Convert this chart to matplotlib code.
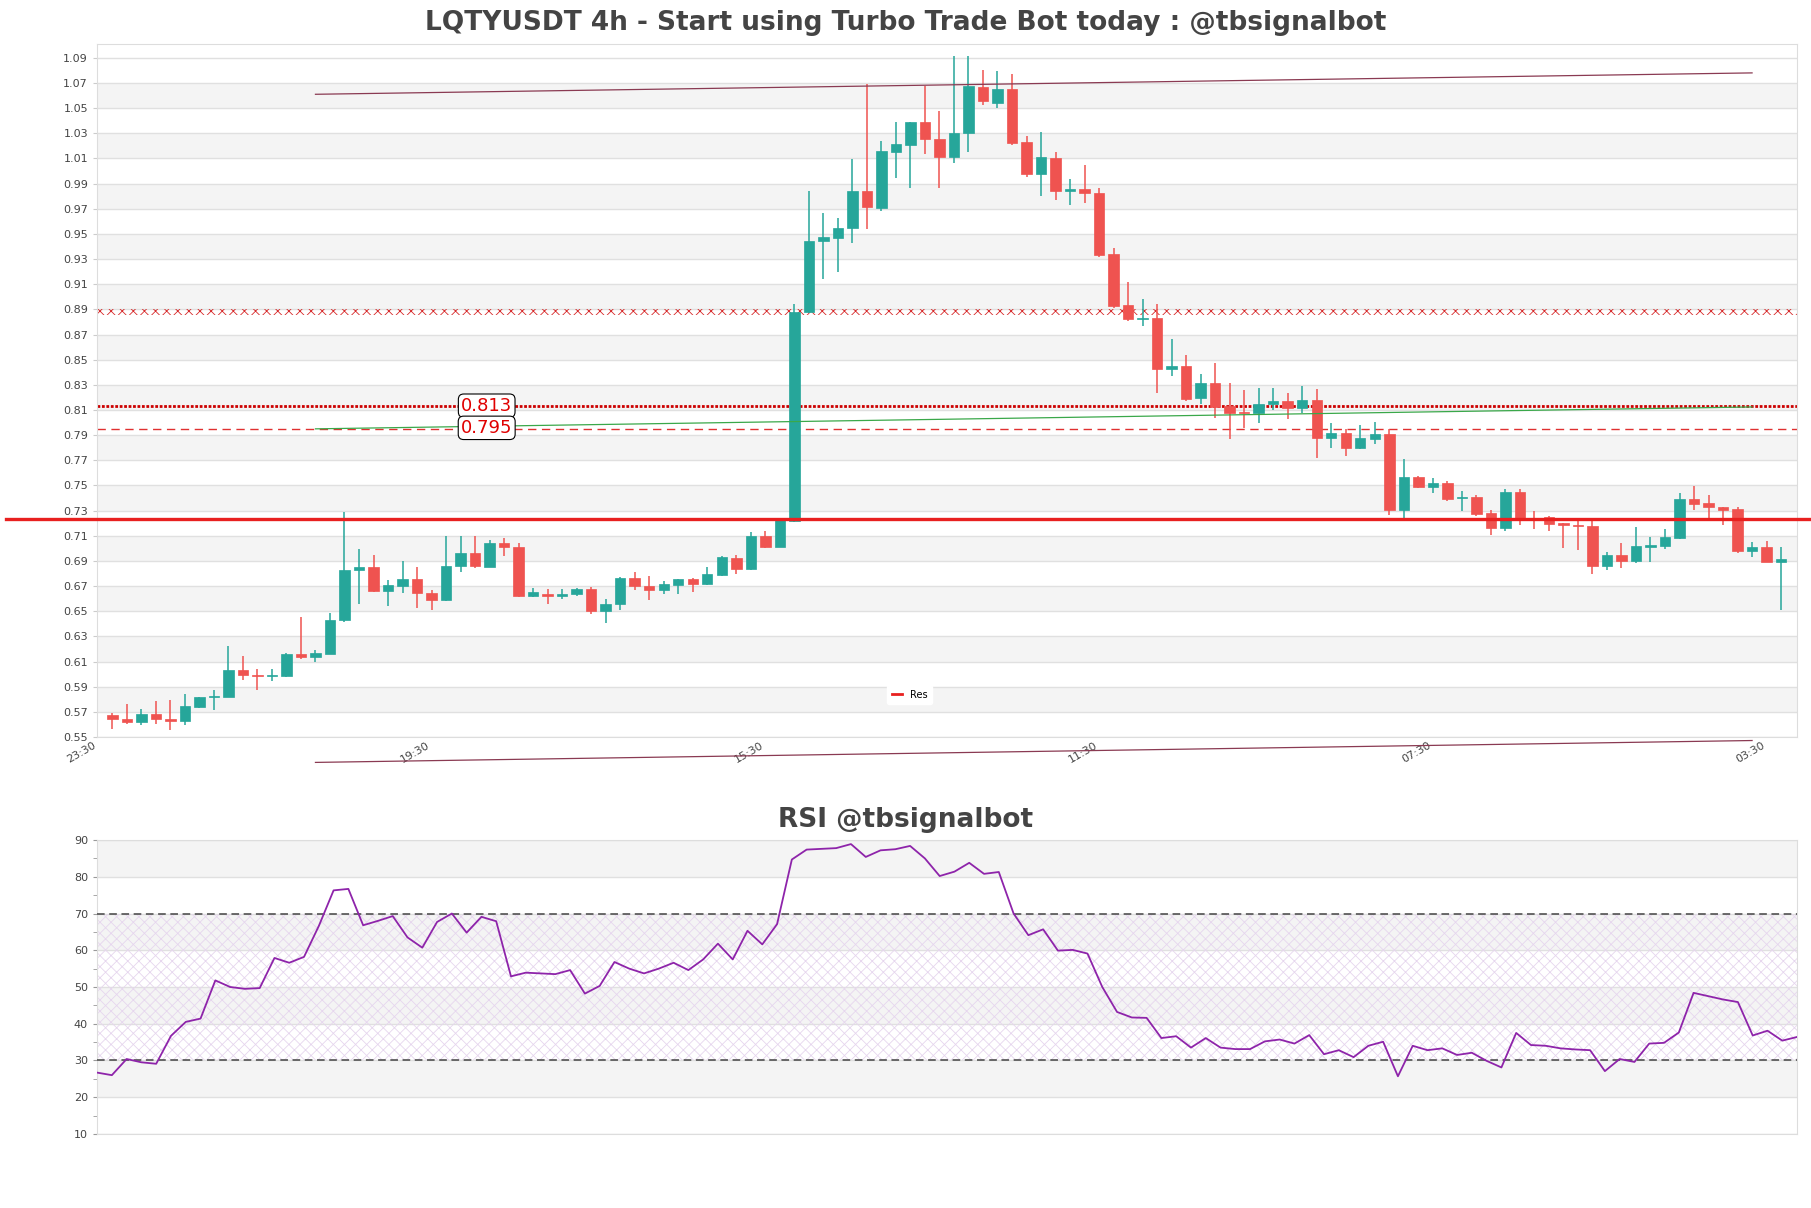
import numpy as np
import matplotlib
matplotlib.use("Agg")
import matplotlib.pyplot as plt
from matplotlib.lines import Line2D

# 4h candles
opens = [
    0.5675, 0.5643, 0.5617, 0.5686, 0.5646, 0.5625, 0.5741, 0.5815, 0.5821, 0.6035,
    0.5995, 0.5985, 0.5982, 0.6163, 0.6133, 0.6162, 0.6427, 0.6825, 0.6852, 0.6658,
    0.6698, 0.6759, 0.6647, 0.6587, 0.6857, 0.6965, 0.6849, 0.7045, 0.7011, 0.6618,
    0.6630, 0.6625, 0.6633, 0.6675, 0.6500, 0.6560, 0.6763, 0.6704, 0.6669, 0.6707,
    0.6760, 0.6713, 0.6787, 0.6925, 0.6837, 0.7096, 0.7008, 0.7215, 0.8881, 0.9445,
    0.9471, 0.9548, 0.9840, 0.9707, 1.0150, 1.0209, 1.0391, 1.0253, 1.0111, 1.0303,
    1.0670, 1.0542, 1.0654, 1.0233, 0.9973, 1.0105, 0.9838, 0.9859, 0.9827, 0.9342,
    0.8934, 0.8820, 0.8834, 0.8423, 0.8450, 0.8193, 0.8317, 0.8132, 0.8087, 0.8079,
    0.8150, 0.8174, 0.8113, 0.8180, 0.7875, 0.7915, 0.7795, 0.7867, 0.7913, 0.7304,
    0.7569, 0.7484, 0.7516, 0.7402, 0.7412, 0.7277, 0.7161, 0.7444, 0.7243, 0.7251,
    0.7198, 0.7185, 0.7177, 0.6859, 0.6944, 0.6899, 0.7013, 0.7015, 0.7079, 0.7389,
    0.7357, 0.7330, 0.7309, 0.6978, 0.7007, 0.6893,
]
highs = [
    0.5690, 0.5765, 0.5725, 0.5789, 0.5797, 0.5845, 0.5821, 0.5876, 0.6226, 0.6141,
    0.6043, 0.6043, 0.6168, 0.6451, 0.6194, 0.6486, 0.7292, 0.6997, 0.6950, 0.6751,
    0.6902, 0.6851, 0.6671, 0.7095, 0.7095, 0.7095, 0.7069, 0.7085, 0.7045, 0.6685,
    0.6674, 0.6680, 0.6683, 0.6690, 0.6600, 0.6772, 0.6810, 0.6780, 0.6737, 0.6760,
    0.6763, 0.6855, 0.6940, 0.6949, 0.7132, 0.7141, 0.7230, 0.8946, 0.9840, 0.9663,
    0.9625, 1.0093, 1.0689, 1.0238, 1.0386, 1.0386, 1.0675, 1.0480, 1.0917, 1.0917,
    1.0807, 1.0797, 1.0773, 1.0278, 1.0309, 1.0153, 0.9933, 1.0047, 0.9867, 0.9385,
    0.9120, 0.8985, 0.8945, 0.8662, 0.8537, 0.8389, 0.8471, 0.8317, 0.8256, 0.8277,
    0.8277, 0.8238, 0.8291, 0.8270, 0.7999, 0.7947, 0.7982, 0.8007, 0.7947, 0.7709,
    0.7577, 0.7561, 0.7534, 0.7455, 0.7423, 0.7301, 0.7471, 0.7471, 0.7299, 0.7259,
    0.7198, 0.7230, 0.7225, 0.6973, 0.7039, 0.7166, 0.7092, 0.7150, 0.7436, 0.7497,
    0.7428, 0.7330, 0.7330, 0.7052, 0.7060, 0.7007,
]
lows = [
    0.5560, 0.5606, 0.5598, 0.5606, 0.5553, 0.5598, 0.5733, 0.5717, 0.5815, 0.5950,
    0.5871, 0.5943, 0.5980, 0.6117, 0.6094, 0.6157, 0.6411, 0.6560, 0.6650, 0.6539,
    0.6642, 0.6526, 0.6512, 0.6579, 0.6809, 0.6841, 0.6849, 0.6936, 0.6613, 0.6610,
    0.6560, 0.6595, 0.6625, 0.6477, 0.6403, 0.6506, 0.6669, 0.6589, 0.6633, 0.6633,
    0.6654, 0.6707, 0.6781, 0.6796, 0.6831, 0.6999, 0.7008, 0.7209, 0.8872, 0.9141,
    0.9197, 0.9424, 0.9539, 0.9684, 0.9947, 0.9864, 1.0135, 0.9864, 1.0061, 1.0150,
    1.0521, 1.0497, 1.0203, 0.9952, 0.9798, 0.9769, 0.9727, 0.9748, 0.9316, 0.8913,
    0.8807, 0.8767, 0.8233, 0.8370, 0.8171, 0.8145, 0.8034, 0.7867, 0.7960, 0.7994,
    0.8100, 0.8026, 0.8074, 0.7716, 0.7801, 0.7737, 0.7792, 0.7827, 0.7264, 0.7238,
    0.7476, 0.7436, 0.7375, 0.7296, 0.7256, 0.7105, 0.7137, 0.7185, 0.7153, 0.7137,
    0.6999, 0.6986, 0.6795, 0.6828, 0.6840, 0.6880, 0.6888, 0.6994, 0.7073, 0.7304,
    0.7224, 0.7185, 0.6960, 0.6933, 0.6891, 0.6509,
]
closes = [
    0.5640, 0.5617, 0.5686, 0.5640, 0.5625, 0.5749, 0.5821, 0.5826, 0.6035, 0.5990,
    0.5985, 0.5992, 0.6163, 0.6133, 0.6170, 0.6433, 0.6830, 0.6852, 0.6658, 0.6708,
    0.6759, 0.6642, 0.6587, 0.6862, 0.6965, 0.6857, 0.7045, 0.7011, 0.6618, 0.6653,
    0.6625, 0.6635, 0.6675, 0.6500, 0.6560, 0.6763, 0.6698, 0.6669, 0.6713, 0.6760,
    0.6713, 0.6793, 0.6931, 0.6837, 0.7096, 0.7008, 0.7230, 0.8881, 0.9447, 0.9474,
    0.9545, 0.9840, 0.9716, 1.0158, 1.0217, 1.0386, 1.0253, 1.0111, 1.0303, 1.0672,
    1.0553, 1.0654, 1.0219, 0.9973, 1.0113, 0.9838, 0.9859, 0.9822, 0.9334, 0.8929,
    0.8820, 0.8826, 0.8423, 0.8450, 0.8185, 0.8317, 0.8124, 0.8079, 0.8079, 0.8150,
    0.8174, 0.8113, 0.8180, 0.7875, 0.7915, 0.7795, 0.7880, 0.7913, 0.7304, 0.7569,
    0.7484, 0.7516, 0.7391, 0.7410, 0.7270, 0.7161, 0.7444, 0.7243, 0.7235, 0.7193,
    0.7185, 0.7177, 0.6859, 0.6944, 0.6899, 0.7015, 0.7023, 0.7092, 0.7389, 0.7349,
    0.7325, 0.7301, 0.6978, 0.7007, 0.6891, 0.6918,
]

rsi_values = [
    26.7, 26.0, 30.4, 29.5, 29.1, 36.7, 40.5, 41.4, 51.8, 50.0,
    49.5, 49.7, 57.9, 56.6, 58.2, 66.6, 76.3, 76.7, 66.8, 68.0,
    69.3, 63.5, 60.7, 67.7, 70.0, 64.8, 69.1, 67.9, 52.9, 53.9,
    53.7, 53.5, 54.6, 48.2, 50.3, 56.8, 55.0, 53.7, 55.0, 56.6,
    54.6, 57.5, 61.8, 57.5, 65.3, 61.6, 67.1, 84.7, 87.4, 87.6,
    87.8, 88.9, 85.4, 87.2, 87.5, 88.4, 85.0, 80.2, 81.4, 83.8,
    80.8, 81.3, 70.0, 64.1, 65.7, 59.9, 60.1, 59.1, 50.0, 43.2,
    41.7, 41.6, 36.1, 36.6, 33.5, 36.1, 33.5, 33.1, 33.1, 35.2,
    35.7, 34.6, 36.9, 31.7, 32.8, 30.9, 34.0, 35.1, 25.7, 34.0,
    32.8, 33.3, 31.5, 32.1, 29.9, 28.1, 37.5, 34.2, 34.0, 33.3,
    33.0, 32.8, 27.1, 30.4, 29.6, 34.6, 34.8, 37.6, 48.4, 47.5,
    46.6, 45.9, 36.8, 38.1, 35.4, 36.4,
]

time_labels = ["23:30", "19:30", "15:30", "11:30", "07:30", "03:30"]

# horizontal levels
res_level = 0.723
level_x = 0.888
level_813 = 0.813
level_795 = 0.795

# trend lines: (start index, start price, end index, end price)
upper_line = (14, 1.061, 113, 1.078)
lower_line = (14, 0.5298, 113, 0.5472)
green_line = (14, 0.795, 113, 0.8124)

GREEN = "#26a69a"
RED = "#ef5350"


def draw_candles(ax):
    """Draw wicks and bodies from the OHLC lists."""
    o = np.array(opens)
    h = np.array(highs)
    lo = np.array(lows)
    c = np.array(closes)
    x = np.arange(len(o))
    colors = np.where(c >= o, GREEN, RED)

    ax.vlines(x, lo, h, colors=colors, linewidth=1.1, zorder=3)
    body = np.maximum(np.abs(c - o), 0.0008)
    ax.bar(x, body, bottom=np.minimum(o, c), width=0.72, color=colors,
           edgecolor=colors, linewidth=0.5, zorder=4)


def style_price_axis(ax):
    ax.set_facecolor("white")
    # alternating grey bands between the grid lines
    for lo in np.arange(0.57, 1.06, 0.04):
        ax.axhspan(lo, lo + 0.02, color="#f4f4f4", zorder=0, lw=0)
    ax.set_ylim(0.55, 1.101)
    ax.set_xlim(-1.05, 116.1)
    ax.set_yticks(np.round(np.arange(0.55, 1.0901, 0.02), 2))
    ax.set_yticklabels([f"{v:.2f}" for v in np.arange(0.55, 1.0901, 0.02)])
    ax.yaxis.grid(True, color="#e0e0e0", linewidth=1.0, zorder=1)
    ax.set_axisbelow(True)
    ax.set_xticks([-1 + 23 * k for k in range(len(time_labels))])
    ax.set_xticklabels(time_labels, rotation=30, ha="right")
    ax.tick_params(axis="y", labelsize=8, colors="#444444", length=3, color="#cccccc")
    ax.tick_params(axis="x", labelsize=8, colors="#444444", length=0, pad=2)
    for s in ax.spines.values():
        s.set_color("#dddddd")


def draw_levels(ax):
    x0, x1 = -1.05, 116.1

    # hatched zone at the upper level
    ax.axhspan(level_x - 0.0024, level_x + 0.0024, facecolor="none",
               edgecolor="#d62728", hatch="xxx", linewidth=0, zorder=2)

    ax.plot([x0, x1], [level_813, level_813], color="#cc0000",
            linestyle=(0, (1, 0.6)), linewidth=2.0, zorder=2)
    ax.plot([x0, x1], [level_795, level_795], color="#e03030",
            linestyle=(0, (6, 4)), linewidth=1.0, zorder=2)

    # main resistance runs over the whole figure width
    ax.plot([-7.3, 117.5], [res_level, res_level], color="#e8201f",
            linewidth=2.4, zorder=5, clip_on=False, label="Res")

    for line, col in [(upper_line, "#8a3a52"), (lower_line, "#8a3a52"),
                      (green_line, "#3aa84a")]:
        ax.plot([line[0], line[2]], [line[1], line[3]], color=col,
                linewidth=0.9, zorder=5, clip_on=False)

    box = dict(boxstyle="round,pad=0.15,rounding_size=0.3", fc="white",
               ec="black", lw=0.8)
    ax.text(25.8, level_813 + 0.0004, "0.813", color="#e00000", fontsize=13,
            ha="center", va="center", bbox=box, zorder=7)
    ax.text(25.8, level_795 + 0.0008, "0.795", color="#e00000", fontsize=13,
            ha="center", va="center", bbox=box, zorder=7)

    handle = Line2D([], [], color="#e8201f", linewidth=2)
    leg = ax.legend([handle], ["Res"], loc="lower center",
                    bbox_to_anchor=(0.478, 0.04), fontsize=7, frameon=True,
                    framealpha=1.0, handlelength=1.0, borderpad=0.5)
    leg.get_frame().set_edgecolor("white")
    leg.get_frame().set_facecolor("white")


def draw_rsi(ax):
    n = len(rsi_values)
    ax.set_facecolor("white")
    for lo in [20, 40, 60, 80]:
        ax.axhspan(lo, lo + 10, color="#f4f4f4", zorder=0, lw=0)
    ax.fill_between([0, n - 1], 30, 70, facecolor="none", edgecolor="#e6d6ee",
                    hatch="xxx", linewidth=0, zorder=1)
    ax.yaxis.grid(True, color="#e0e0e0", linewidth=1.0, zorder=1)
    ax.set_axisbelow(True)

    ax.plot(np.arange(n), rsi_values, color="#8e24aa", linewidth=1.3, zorder=4)
    ax.axhline(70, color="#444444", linestyle=(0, (5, 3)), linewidth=1.1, zorder=3)
    ax.axhline(30, color="#444444", linestyle=(0, (5, 3)), linewidth=1.1, zorder=3)

    ax.set_xlim(0, n - 1)
    ax.set_ylim(10, 90)
    ax.set_yticks(np.arange(10, 91, 10))
    ax.set_yticks(np.arange(15, 90, 10), minor=True)
    ax.set_xticks([])
    ax.tick_params(axis="y", which="both", labelsize=8, colors="#444444",
                   length=3, color="#999999")
    for s in ax.spines.values():
        s.set_color("#dddddd")


if __name__ == "__main__":
    plt.rcParams["hatch.linewidth"] = 0.6
    fig = plt.figure(figsize=(18.11, 12.08), dpi=100)
    fig.patch.set_facecolor("white")

    ax = fig.add_axes([0.0536, 0.3899, 0.9387, 0.5737])
    style_price_axis(ax)
    draw_candles(ax)
    draw_levels(ax)

    ax_rsi = fig.add_axes([0.0536, 0.0613, 0.9387, 0.2433])
    draw_rsi(ax_rsi)

    fig.text(0.5, 0.981, "LQTYUSDT 4h - Start using Turbo Trade Bot today : @tbsignalbot",
             ha="center", va="center", fontsize=19, fontweight="bold", color="#444444")
    fig.text(0.5, 0.321, "RSI @tbsignalbot", ha="center", va="center",
             fontsize=19, fontweight="bold", color="#444444")

    fig.savefig("out.png", dpi=100)
